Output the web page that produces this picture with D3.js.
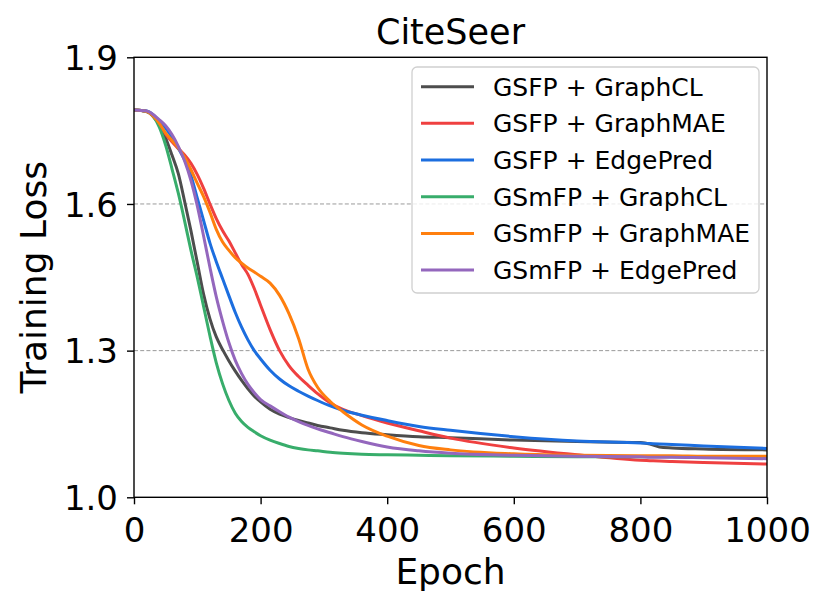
<!DOCTYPE html>
<html>
<head>
<meta charset="utf-8">
<script src="https://cdn.jsdelivr.net/npm/d3@7"></script>
<style>
  html, body { margin: 0; padding: 0; background: #fff; }
  svg { display: block; font-family: "DejaVu Sans", sans-serif; }
</style>
</head>
<body>
<svg id="chart" width="830" height="609"></svg>
<script>
// ---- data ----
const epochs = [0,20,40,50,60,70,80,90,100,110,120,130,140,150,160,170,180,190,200,215,230,245,260,275,290,310,330,360,400,450,500,600,700,800,815,830,850,900,1000];

const gsfpGraphCL = [1.792,1.789,1.762,1.735,1.700,1.662,1.605,1.545,1.480,1.415,1.365,1.328,1.302,1.279,1.258,1.239,1.222,1.207,1.195,1.180,1.170,1.163,1.157,1.152,1.147,1.142,1.137,1.132,1.128,1.124,1.122,1.117,1.114,1.112,1.109,1.103,1.101,1.099,1.097];
const gsfpGraphMAE = [1.792,1.789,1.763,1.743,1.727,1.713,1.700,1.683,1.660,1.632,1.600,1.570,1.545,1.524,1.500,1.476,1.456,1.427,1.393,1.343,1.300,1.269,1.247,1.229,1.212,1.193,1.180,1.167,1.152,1.136,1.121,1.101,1.087,1.076,1.075,1.074,1.073,1.071,1.068];
const gsfpEdgePred = [1.792,1.790,1.770,1.755,1.736,1.714,1.690,1.658,1.612,1.566,1.520,1.482,1.447,1.412,1.378,1.348,1.322,1.300,1.283,1.260,1.242,1.228,1.217,1.207,1.198,1.187,1.178,1.168,1.157,1.145,1.137,1.124,1.115,1.111,1.110,1.109,1.108,1.105,1.100];
const gsmfpGraphCL = [1.792,1.789,1.757,1.720,1.672,1.622,1.565,1.505,1.450,1.390,1.330,1.275,1.232,1.198,1.172,1.155,1.143,1.134,1.126,1.117,1.110,1.104,1.100,1.097,1.095,1.092,1.090,1.088,1.087,1.086,1.085,1.084,1.083,1.083,1.083,1.083,1.083,1.082,1.082];
const gsmfpGraphMAE = [1.792,1.789,1.765,1.745,1.730,1.715,1.695,1.670,1.642,1.615,1.583,1.548,1.522,1.505,1.490,1.479,1.469,1.461,1.452,1.438,1.413,1.375,1.325,1.262,1.225,1.196,1.175,1.148,1.125,1.106,1.097,1.089,1.086,1.085,1.085,1.085,1.085,1.084,1.084];
const gsmfpEdgePred = [1.792,1.790,1.772,1.760,1.742,1.718,1.688,1.648,1.596,1.534,1.470,1.410,1.360,1.316,1.280,1.253,1.231,1.214,1.200,1.187,1.175,1.164,1.155,1.147,1.140,1.132,1.124,1.114,1.103,1.095,1.090,1.086,1.084,1.083,1.082,1.082,1.082,1.081,1.079];

const seriesNames = ["GSFP + GraphCL","GSFP + GraphMAE","GSFP + EdgePred","GSmFP + GraphCL","GSmFP + GraphMAE","GSmFP + EdgePred"];
const seriesValues = [gsfpGraphCL, gsfpGraphMAE, gsfpEdgePred, gsmfpGraphCL, gsmfpGraphMAE, gsmfpEdgePred];
const seriesColors = ["#4d4d4d","#ef4040","#1c6edf","#38ad6b","#ff7f0e","#9467bd"];

const xTicks = [0,200,400,600,800,1000];
const yTicks = [1.0,1.3,1.6,1.9];
const gridValues = [1.3,1.6];

// ---- layout ----
const L = 134, R = 767, T = 57.3, B = 497.3;
const svg = d3.select("#chart");
const x = d3.scaleLinear().domain([0,1000]).range([L,R]);
const y = d3.scaleLinear().domain([1.0,1.9]).range([B,T]);

svg.append("defs").append("clipPath").attr("id","clip")
  .append("rect").attr("x",L).attr("y",T).attr("width",R-L).attr("height",B-T);

// grid
svg.append("g").selectAll("line").data(gridValues).join("line")
  .attr("x1",L).attr("x2",R).attr("y1",d=>y(d)).attr("y2",d=>y(d))
  .attr("stroke","#9a9a9a").attr("stroke-width",1).attr("stroke-dasharray","4,2.2");

// lines
const line = d3.line().x((d,i)=>x(epochs[i])).y(d=>y(d)).curve(d3.curveMonotoneX);
const lg = svg.append("g").attr("clip-path","url(#clip)");
seriesValues.forEach((vals,k)=>{
  lg.append("path").datum(vals).attr("d",line)
    .attr("fill","none").attr("stroke",seriesColors[k]).attr("stroke-width",3)
    .attr("stroke-linejoin","round").attr("stroke-linecap","round");
});

// axes
const xAxis = svg.append("g").attr("transform",`translate(0,${B})`)
  .call(d3.axisBottom(x).tickValues(xTicks).tickSize(7).tickPadding(6).tickFormat(d3.format("d")));
const yAxis = svg.append("g").attr("transform",`translate(${L},0)`)
  .call(d3.axisLeft(y).tickValues(yTicks).tickSize(7).tickPadding(9).tickFormat(d3.format(".1f")));
[xAxis,yAxis].forEach(a=>{
  a.select(".domain").remove();
  a.selectAll(".tick line").attr("stroke","#000").attr("stroke-width",1.4);
  a.selectAll(".tick text").attr("fill","#000").style("font-size","34px").style("font-family","DejaVu Sans");
});
xAxis.selectAll(".tick text").attr("dy",null).attr("y",45);
yAxis.selectAll(".tick text").attr("dy","0.36em");

// spines
svg.append("rect").attr("x",L).attr("y",T).attr("width",R-L).attr("height",B-T)
  .attr("fill","none").attr("stroke","#000").attr("stroke-width",1.4);

// title & labels
svg.append("text").attr("x",(L+R)/2).attr("y",44).attr("text-anchor","middle")
  .style("font-size","35px").text("CiteSeer");
svg.append("text").attr("x",(L+R)/2).attr("y",584).attr("text-anchor","middle")
  .style("font-size","36px").text("Epoch");
svg.append("text").attr("transform",`translate(46,${(T+B)/2}) rotate(-90)`).attr("text-anchor","middle")
  .style("font-size","36px").text("Training Loss");

// legend
const leg = svg.append("g");
leg.append("rect").attr("x",412).attr("y",67).attr("width",347).attr("height",226).attr("rx",5)
  .attr("fill","#fff").attr("fill-opacity",0.8).attr("stroke","#d0d0d0").attr("stroke-width",1.3);
seriesNames.forEach((name,k)=>{
  const yy = 86.7 + k*36.67;
  leg.append("line").attr("x1",421).attr("x2",474).attr("y1",yy).attr("y2",yy)
    .attr("stroke",seriesColors[k]).attr("stroke-width",3);
  leg.append("text").attr("x",493).attr("y",yy+9).style("font-size","25px").text(name);
});
</script>
</body>
</html>
